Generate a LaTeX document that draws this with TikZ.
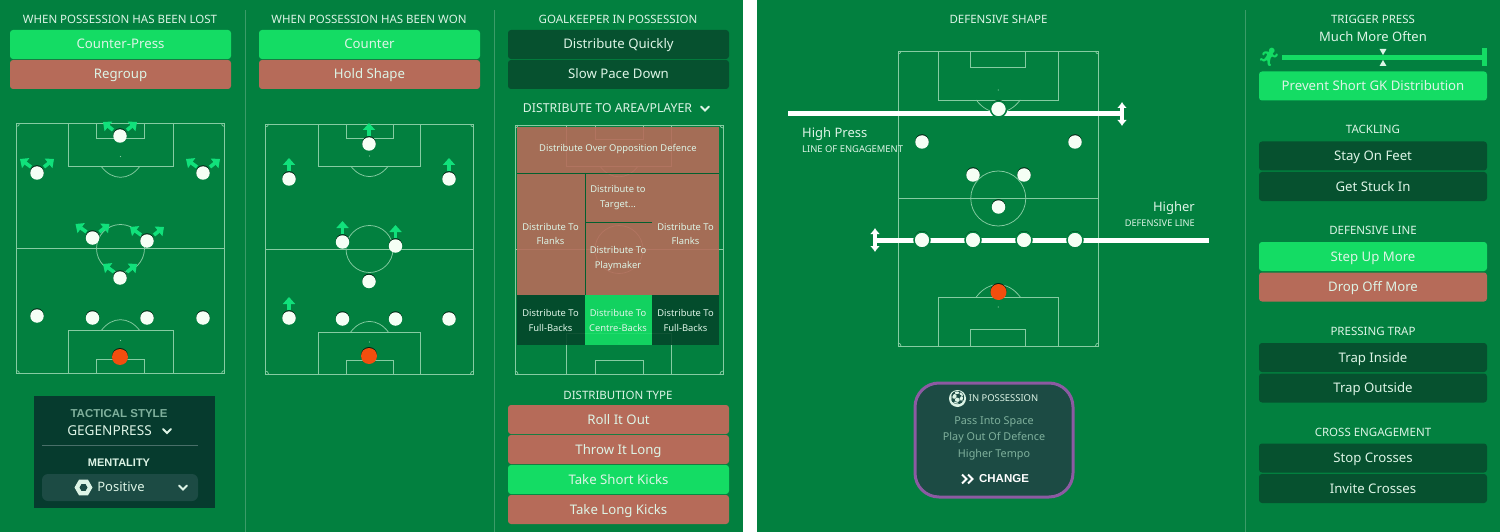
\documentclass[tikz,border=0pt]{standalone}
\usepackage{fontspec}
\setmainfont{Noto Sans}
\newfontfamily\emojifont{Noto Emoji}
\newfontfamily\heavyfont{Liberation Sans}
\usepackage{tikz}
\usetikzlibrary{shapes,arrows,arrows.meta,positioning,calc}

\definecolor{pitchgreen}{HTML}{02803F}
\definecolor{glowgreen}{HTML}{14DC64}
\definecolor{clay}{HTML}{B66B59}
\definecolor{darkbtn}{HTML}{06512F}
\definecolor{paneldark}{HTML}{063B2E}
\definecolor{zonedark}{HTML}{04472A}
\definecolor{panelgrey}{HTML}{1C4B44}
\definecolor{softwhite}{HTML}{DDF4E6}
\definecolor{mutedtext}{HTML}{7FB09C}
\definecolor{pitchline}{HTML}{86CCA2}
\definecolor{divider}{HTML}{3B9C68}
\definecolor{keeper}{HTML}{F24E0E}
\definecolor{possborder}{HTML}{8C5AA2}

\tikzset{
  btn/.style={rectangle, rounded corners=3pt, minimum width=221pt, minimum height=29pt, inner sep=0pt,
    text=softwhite, text height=10pt, text depth=1pt, font=\fontsize{13.2}{15}\selectfont},
  btnon/.style={btn, fill=glowgreen},
  btnoff/.style={btn, fill=clay},
  btndark/.style={btn, fill=darkbtn},
  btnwide/.style={minimum width=228pt},
  heading/.style={text=softwhite, inner sep=0pt, text height=8.5pt, text depth=.5pt, font=\fontsize{11.5}{13}\selectfont},
  zone/.style={rectangle, anchor=north west, inner sep=0pt, fill opacity=.9},
  zonetext/.style={text=softwhite, align=center, inner sep=0pt, font=\fontsize{9.4}{14.5}\selectfont},
  possline/.style={text=mutedtext, inner sep=0pt, text height=8pt, text depth=2.5pt, font=\fontsize{10.8}{12}\selectfont},
  player/.style={circle, fill=white!96!green, minimum size=13.5pt, inner sep=0pt,
    preaction={fill=black!75!pitchgreen, transform canvas={yshift=1pt}}},
  gk/.style={player, fill=keeper, minimum size=16pt},
  linedplayer/.style={player, draw=pitchgreen, line width=1.5pt, minimum size=16pt},
  movearrow/.style={draw=glowgreen!85!cyan, line width=3.6pt, -{Triangle[length=7pt,width=12pt]}},
  linebar/.style={draw=white, line width=5pt},
  handle/.style={draw=white, line width=3.5pt, {Latex[length=6pt,width=10pt]}-{Latex[length=6pt,width=10pt]}},
  chevron/.pic={\draw[softwhite, line width=1.9pt, line cap=round] (-4,-2) -- (0,2) -- (4,-2);},
  twochevron/.pic={\draw[white, line width=2pt] (-5.5,-4.5) -- (-1,0) -- (-5.5,4.5);
    \draw[white, line width=2pt] (.5,-4.5) -- (5,0) -- (.5,4.5);}
}

% x, y, width, height, box half width, box depth, goal half width, goal depth, radius
\newcommand{\pitchlines}[9]{
  \begin{scope}[shift={(#1,#2)}, draw=pitchline, line width=.75pt]
    \draw (0,0) rectangle (#3,#4);
    \draw (0,#4/2) -- (#3,#4/2);
    \draw (#3/2,#4/2) circle (#9);
    \draw ({#3/2-#5},0) rectangle ({#3/2+#5},#6);
    \draw ({#3/2-#7},0) rectangle ({#3/2+#7},#8);
    \draw ({#3/2-#5},#4) rectangle ({#3/2+#5},#4-#6);
    \draw ({#3/2-#7},#4) rectangle ({#3/2+#7},#4-#8);
    \draw ({#3/2-.8*#9},#6) .. controls ({#3/2-.35*#9},{#6+.6*#9}) and ({#3/2+.35*#9},{#6+.6*#9}) .. ({#3/2+.8*#9},#6);
    \draw ({#3/2-.8*#9},#4-#6) .. controls ({#3/2-.35*#9},{#4-#6-.6*#9}) and ({#3/2+.35*#9},{#4-#6-.6*#9}) .. ({#3/2+.8*#9},#4-#6);
    \draw (3,0) arc[start angle=0, end angle=90, radius=3];
    \draw (#3-3,0) arc[start angle=180, end angle=90, radius=3];
    \draw (3,#4) arc[start angle=0, end angle=-90, radius=3];
    \draw (#3-3,#4) arc[start angle=180, end angle=270, radius=3];
    \fill[pitchline] (#3/2,#6-10) circle (.6);
    \fill[pitchline] (#3/2,#4-#6+10) circle (.6);
  \end{scope}
}

\begin{document}
\begin{tikzpicture}[x=1pt, y=-1pt, node distance=30pt, auto]
    \useasboundingbox (0,0) rectangle (1500,532);
    \fill[pitchgreen] (0,0) rectangle (1500,532);
    \fill[white] (743,0) rectangle (757,532);

    % Dividers
    \draw[divider, line width=1pt] (245,10) -- (245,532);
    \draw[divider, line width=1pt] (494,10) -- (494,532);
    \draw[divider, line width=1pt] (1245,10) -- (1245,532);

    % Possession lost
    \node[heading] (losthead) at (120,19.5) {WHEN POSSESSION HAS BEEN LOST};
    \node[btnon] (counterpress) at (120.5,44.5) {Counter-Press};
    \node[btnoff, below of=counterpress] (regroup) {Regroup};

    % Possession won
    \node[heading] (wonhead) at (369,19.5) {WHEN POSSESSION HAS BEEN WON};
    \node[btnon] (counter) at (369.5,44.5) {Counter};
    \node[btnoff, below of=counter] (holdshape) {Hold Shape};

    % Goalkeeper
    \node[heading] (gkhead) at (618,19.5) {GOALKEEPER IN POSSESSION};
    \node[btndark] (distquick) at (618.5,44.5) {Distribute Quickly};
    \node[btndark, below of=distquick] (slowpace) {Slow Pace Down};
    \node[heading, font=\fontsize{12.3}{13}\selectfont] (areahead) at (607.5,109) {DISTRIBUTE TO AREA/PLAYER};
    \pic at (705,108.5) {chevron};

    % Lost pitch
    \pitchlines{16.5}{123.5}{208}{250}{52.5}{43}{24}{14.5}{24}
    \node[player] (la) at (120,136) {};
    \node[player] (lb) at (37,173) {};
    \node[player] (lc) at (203,173) {};
    \node[player] (ld) at (92.5,238) {};
    \node[player] (le) at (147,241) {};
    \node[player] (lf) at (120,278) {};
    \node[player] (lg) at (37,316) {};
    \node[player] (lh) at (92.5,318) {};
    \node[player] (li) at (147,318) {};
    \node[player] (lj) at (203,318) {};
    \node[gk] (lk) at (120,357) {};
    \draw[movearrow] ($(la)+(-7,-6)$) -- ++(-10,-8);
    \draw[movearrow] ($(la)+(7,-6)$) -- ++(10,-8);
    \draw[movearrow] ($(lb)+(-6,-6)$) -- ++(-11,-8);
    \draw[movearrow] ($(lb)+(7,-6)$) -- ++(10,-8);
    \draw[movearrow] ($(lc)+(-6,-6)$) -- ++(-11,-8);
    \draw[movearrow] ($(lc)+(7,-6)$) -- ++(10,-8);
    \draw[movearrow] ($(ld)+(-6,-6)$) -- ++(-11,-8);
    \draw[movearrow] ($(ld)+(7,-6)$) -- ++(10,-8);
    \draw[movearrow] ($(le)+(-6,-6)$) -- ++(-11,-8);
    \draw[movearrow] ($(le)+(7,-6)$) -- ++(10,-8);
    \draw[movearrow] ($(lf)+(-6,-6)$) -- ++(-11,-8);
    \draw[movearrow] ($(lf)+(7,-6)$) -- ++(10,-8);

    % Won pitch
    \pitchlines{265.5}{124}{208}{250}{51}{42}{23.5}{14}{23.5}
    \node[player] (wa) at (369,144) {};
    \node[player] (wb) at (289,179) {};
    \node[player] (wc) at (449,179) {};
    \node[player] (wd) at (342.5,242) {};
    \node[player] (we) at (395.5,246) {};
    \node[player] (wf) at (369,281.5) {};
    \node[player] (wg) at (289,318) {};
    \node[player] (wh) at (342.5,319) {};
    \node[player] (wi) at (395.5,319) {};
    \node[player] (wj) at (449,319) {};
    \node[gk] (wk) at (369,356) {};
    \draw[movearrow] ($(wa)+(0,-8)$) -- ++(0,-13);
    \draw[movearrow] ($(wb)+(0,-8)$) -- ++(0,-13);
    \draw[movearrow] ($(wc)+(0,-8)$) -- ++(0,-13);
    \draw[movearrow] ($(wd)+(0,-8)$) -- ++(0,-13);
    \draw[movearrow] ($(we)+(0,-8)$) -- ++(0,-13);
    \draw[movearrow] ($(wg)+(0,-8)$) -- ++(0,-13);

    % Distribution zones
    \pitchlines{515}{125}{208}{249}{52.5}{41}{24}{14}{24}
    \node[zone, fill=clay, minimum width=202pt, minimum height=46pt] (zonetop) at (517,127) {};
    \node[zone, fill=clay, minimum width=67.5pt, minimum height=122pt] (zoneleft) at (517,173) {};
    \node[zone, fill=clay, minimum width=67pt, minimum height=48.5pt] (zonetarget) at (585,173) {};
    \node[zone, fill=clay, minimum width=67pt, minimum height=72.5pt] (zoneplay) at (585,222.5) {};
    \node[zone, fill=clay, minimum width=67pt, minimum height=122pt] (zoneright) at (652,173) {};
    \node[zone, fill=zonedark, minimum width=67.5pt, minimum height=50pt] (zonefbl) at (517,295) {};
    \node[zone, fill=glowgreen, minimum width=67pt, minimum height=50pt] (zonecb) at (585,295) {};
    \node[zone, fill=zonedark, minimum width=67pt, minimum height=50pt] (zonefbr) at (652,295) {};
    \draw[pitchgreen!75!black, line width=.8pt] (zonetop.south west) -- (zonetop.south east);
    \draw[pitchgreen!75!black, line width=.8pt] (zoneleft.north east) -- (zoneleft.south east);
    \draw[pitchgreen!75!black, line width=.8pt] (zonetarget.south west) -- (zonetarget.south east);
    \node[zonetext] (ztop) at (618,149.5) {Distribute Over Opposition Defence};
    \node[zonetext] (zlft) at (550.5,234) {Distribute To\\Flanks};
    \node[zonetext] (ztar) at (618,197.5) {Distribute to\\Target...};
    \node[zonetext] (zply) at (618,258.5) {Distribute To\\Playmaker};
    \node[zonetext] (zrgt) at (685.5,234) {Distribute To\\Flanks};
    \node[zonetext] (zfbl) at (550.5,320.5) {Distribute To\\Full-Backs};
    \node[zonetext] (zcb) at (618,320.5) {Distribute To\\Centre-Backs};
    \node[zonetext] (zfbr) at (685.5,320.5) {Distribute To\\Full-Backs};

    % Distribution type
    \node[heading] (typehead) at (618,395) {DISTRIBUTION TYPE};
    \node[btnoff] (rollout) at (618.5,419.5) {Roll It Out};
    \node[btnoff, below of=rollout] (throwlong) {Throw It Long};
    \node[btnon, below of=throwlong] (shortkicks) {Take Short Kicks};
    \node[btnoff, below of=shortkicks] (longkicks) {Take Long Kicks};

    % Tactical style
    \node[rectangle, fill=paneldark, minimum width=181pt, minimum height=112pt, inner sep=0pt] (stylepanel) at (124.5,452) {};
    \node[text=mutedtext, inner sep=0pt, font=\heavyfont\fontsize{11.5}{13}\bfseries\selectfont] (stylehead) at (119,414) {TACTICAL STYLE};
    \node[text=softwhite, inner sep=0pt, font=\fontsize{13.6}{15}\selectfont] (gegen) at (109.5,431) {GEGENPRESS};
    \pic at (167,431) {chevron};
    \draw[panelgrey!80!white, line width=.8pt] (42,445) -- (198,445);
    \node[text=softwhite, inner sep=0pt, font=\heavyfont\fontsize{11}{13}\bfseries\selectfont] (menthead) at (119,463) {MENTALITY};
    \node[rectangle, rounded corners=6pt, fill=panelgrey, minimum width=156pt, minimum height=27pt, inner sep=0pt] (mentbox) at (120,487.5) {};
    \node[text=softwhite, inner sep=0pt, font=\fontsize{13}{15}\selectfont] (positive) at (121,487) {Positive};
    \node[regular polygon, regular polygon sides=6, fill=softwhite, minimum size=18pt, inner sep=0pt] (hexa) at (83.5,487.5) {};
    \node[regular polygon, regular polygon sides=6, fill=panelgrey, minimum size=8pt, inner sep=0pt] at (hexa) {};
    \pic at (183,487.5) {chevron};

    % Defensive shape
    \node[heading] (shapehead) at (998.5,19.5) {DEFENSIVE SHAPE};
    \pitchlines{898}{51}{200.5}{295}{60}{49}{27.5}{16.5}{27.5}
    \coordinate (pressa) at (788,114);
    \coordinate (pressb) at (1120,114);
    \coordinate (defa) at (877,240);
    \coordinate (defb) at (1209,240);
    \draw[linebar] (pressa) -- (pressb);
    \draw[linebar] (defa) -- (defb);
    \draw[handle] ($(pressb)+(2,-12)$) -- ($(pressb)+(2,12)$);
    \draw[handle] ($(defa)+(-2,-12)$) -- ($(defa)+(-2,12)$);
    \node[linedplayer] (da) at (998.5,109) {};
    \node[player] (db) at (922,142) {};
    \node[player] (dc) at (1075,142) {};
    \node[player] (dd) at (973,175) {};
    \node[player] (de) at (1024,175) {};
    \node[player] (df) at (998.5,207) {};
    \node[linedplayer] (dg) at (922,240) {};
    \node[linedplayer] (dh) at (973,240) {};
    \node[linedplayer] (di) at (1024,240) {};
    \node[linedplayer] (dj) at (1075,240) {};
    \node[gk] (dk) at (998.5,292) {};
    \node[text=softwhite, anchor=west, inner sep=0pt, font=\fontsize{13}{15}\selectfont] (highpress) at (802,134.5) {High Press};
    \node[text=softwhite, anchor=west, inner sep=0pt, font=\fontsize{9.4}{10}\selectfont] (engage) at (802,149.5) {LINE OF ENGAGEMENT};
    \node[text=softwhite, anchor=east, inner sep=0pt, font=\fontsize{13}{15}\selectfont] (higher) at (1195,208) {Higher};
    \node[text=softwhite, anchor=east, inner sep=0pt, font=\fontsize{9.2}{10}\selectfont] (defline) at (1195,223) {DEFENSIVE LINE};

    % In possession
    \node[rectangle, rounded corners=24pt, draw=possborder, line width=3pt, fill=panelgrey, minimum width=158pt, minimum height=114pt, inner sep=0pt] (posspanel) at (994,440) {};
    \node[circle, fill=softwhite, minimum size=17pt, inner sep=0pt] (ballback) at (957.5,398.5) {};
    \node[text=panelgrey, inner sep=0pt, font=\emojifont\fontsize{13}{15}\selectfont] (ball) at (957.5,398.5) {⚽};
    \node[text=softwhite, inner sep=0pt, font=\fontsize{9.4}{12}\selectfont] (posshead) at (1003.5,398.5) {IN POSSESSION};
    \node[possline] (possa) at (994,421.5) {Pass Into Space};
    \node[possline, below=5.5pt of possa] (possb) {Play Out Of Defence};
    \node[possline, below=5.5pt of possb] (possc) {Higher Tempo};
    \node[text=white, inner sep=0pt, font=\heavyfont\fontsize{11.5}{13}\bfseries\selectfont] (change) at (1004,479) {CHANGE};
    \pic at (967.5,479) {twochevron};

    % Trigger press
    \node[heading] (triggerhead) at (1373,19.5) {TRIGGER PRESS};
    \node[text=softwhite, inner sep=0pt, font=\fontsize{13}{15}\selectfont] (oftenlabel) at (1373,37) {Much More Often};
    \coordinate (sliderstart) at (1282,57.5);
    \coordinate (sliderend) at (1487,57.5);
    \draw[draw=glowgreen, line width=5.5pt] (sliderstart) -- (sliderend);
    \draw[draw=glowgreen, line width=5.5pt] ($(sliderend)+(-2.7,-9)$) -- ($(sliderend)+(-2.7,9)$);
    \node[isosceles triangle, isosceles triangle apex angle=60, shape border rotate=-90, fill=softwhite, minimum size=6pt, inner sep=0pt] (marka) at (1383,51) {};
    \node[isosceles triangle, isosceles triangle apex angle=60, shape border rotate=90, fill=softwhite, minimum size=6pt, inner sep=0pt] (markb) at (1383,64) {};
    \node[text=glowgreen, inner sep=0pt, font=\emojifont\fontsize{18}{20}\selectfont] (runner) at (1269,57) {\scalebox{-1}[1]{🏃}};
    \node[btnon, btnwide] (preventgk) at (1373,86) {Prevent Short GK Distribution};

    % Tackling
    \node[heading] (tacklehead) at (1373,130) {TACKLING};
    \node[btndark, btnwide] (stayfeet) at (1373,156) {Stay On Feet};
    \node[btndark, btnwide, below of=stayfeet, yshift=-.5pt] (stuckin) {Get Stuck In};

    % Defensive line
    \node[heading] (linehead) at (1373,230.5) {DEFENSIVE LINE};
    \node[btnon, btnwide] (stepup) at (1373,256.5) {Step Up More};
    \node[btnoff, btnwide, below of=stepup, yshift=-.5pt] (dropoff) {Drop Off More};

    % Pressing trap
    \node[heading] (traphead) at (1373,331) {PRESSING TRAP};
    \node[btndark, btnwide] (trapin) at (1373,357.5) {Trap Inside};
    \node[btndark, btnwide, below of=trapin, yshift=-.5pt] (trapout) {Trap Outside};

    % Cross engagement
    \node[heading] (crosshead) at (1373,432) {CROSS ENGAGEMENT};
    \node[btndark, btnwide] (stopcross) at (1373,458) {Stop Crosses};
    \node[btndark, btnwide, below of=stopcross, yshift=-.5pt] (invitecross) {Invite Crosses};
\end{tikzpicture}
\end{document}
